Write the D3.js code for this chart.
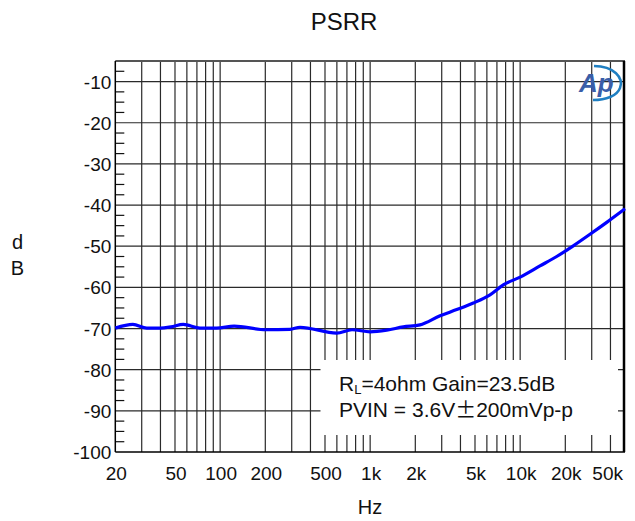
<!DOCTYPE html>
<html>
<head>
<meta charset="utf-8">
<script src="https://cdn.jsdelivr.net/npm/d3@7"></script>
<style>
  html, body { margin: 0; padding: 0; background: #fff; }
  svg { display: block; font-family: "Liberation Sans", Arial, sans-serif; }
</style>
</head>
<body>
<svg id="chart" width="635" height="521"></svg>
<script>
// PSRR sweep: frequency (Hz) and rejection (dB)
const freqHz = [20, 26.2, 32.4, 40, 47, 56.8, 73.4, 94.8, 124, 201, 292, 341, 598, 757, 1000,
  1290, 1664, 2150, 2925, 3776, 4874, 6296, 7720, 10000, 13550, 17520, 22600, 29200, 37760, 50000];
const psrrDb = [-69.9, -69.0, -69.9, -69.9, -69.6, -69.0, -69.9, -69.9, -69.4, -70.3, -70.2, -69.7, -71.1, -70.3, -70.8,
  -70.4, -69.6, -69.1, -66.9, -65.4, -63.8, -61.8, -59.4, -57.5, -54.8, -52.5, -49.9, -47.1, -44.2, -40.9];

// Axis ticks
const xTickValues = [20, 50, 100, 200, 500, 1000, 2000, 5000, 10000, 20000, 50000];
const xTickLabels = ["20", "50", "100", "200", "500", "1k", "2k", "5k", "10k", "20k", "50k"];
const yTickValues = [-10, -20, -30, -40, -50, -60, -70, -80, -90, -100];
const yTickLabels = ["-10", "-20", "-30", "-40", "-50", "-60", "-70", "-80", "-90", "-100"];

const svg = d3.select("#chart");
const L = 115.3, R = 625, T = 61, B = 452;

const x = d3.scaleLog().domain([20, 50000]).range([L, R]);
const y = d3.scaleLinear().domain([-5, -100]).range([T, B]);

// vertical grid: every 1..9 multiple of each decade
const xGrid = [];
[10, 100, 1000, 10000].forEach(d => {
  for (let k = 1; k <= 9; k++) {
    const v = k * d;
    if (v > 20 && v < 50000) xGrid.push(v);
  }
});

const grid = svg.append("g");
grid.selectAll("line.v").data(xGrid).join("line")
  .attr("x1", d => x(d)).attr("x2", d => x(d))
  .attr("y1", T).attr("y2", B)
  .attr("stroke", "#2a2a2a").attr("stroke-width", 1.2);

grid.selectAll("line.h").data(yTickValues.filter(v => v > -100)).join("line")
  .attr("x1", L).attr("x2", R)
  .attr("y1", d => y(d)).attr("y2", d => y(d))
  .attr("stroke", "#2a2a2a").attr("stroke-width", 1.2);

// minor ticks on the left axis every 2.5 dB
const minor = d3.range(-7.5, -100, -2.5).filter(v => v % 10 !== 0);
grid.selectAll("line.m").data(minor).join("line")
  .attr("x1", L).attr("x2", L + 9)
  .attr("y1", d => y(d)).attr("y2", d => y(d))
  .attr("stroke", "#111").attr("stroke-width", 1.2);

// frame
svg.append("line").attr("x1", L).attr("x2", R).attr("y1", T).attr("y2", T)
  .attr("stroke", "#555").attr("stroke-width", 2);
svg.append("line").attr("x1", L).attr("x2", L).attr("y1", T).attr("y2", B)
  .attr("stroke", "#000").attr("stroke-width", 1.5);
svg.append("line").attr("x1", L).attr("x2", R).attr("y1", B).attr("y2", B)
  .attr("stroke", "#000").attr("stroke-width", 1.5);
svg.append("line").attr("x1", R - 1).attr("x2", R - 1).attr("y1", T).attr("y2", B)
  .attr("stroke", "#000").attr("stroke-width", 2.5);

// note box
svg.append("rect").attr("x", 320.5).attr("y", 360).attr("width", 297.5).attr("height", 75)
  .attr("fill", "#fff");
const note = svg.append("text").attr("x", 339).attr("y", 391)
  .attr("font-size", 21).attr("fill", "#111");
note.append("tspan").text("R");
note.append("tspan").attr("font-size", 13).attr("dy", 3).text("L");
note.append("tspan").attr("dy", -3).text("=4ohm Gain=23.5dB");
const note2 = svg.append("text").attr("x", 339).attr("y", 417)
  .attr("font-size", 21).attr("fill", "#111");
note2.append("tspan").text("PVIN = 3.6V");
note2.append("tspan").attr("font-family", "'Noto Sans CJK SC', sans-serif").text("\u00B1");
note2.append("tspan").text("200mVp-p");

// curve
svg.append("path")
  .datum(freqHz.map((f, i) => [f, psrrDb[i]]))
  .attr("fill", "none").attr("stroke", "#0000ff").attr("stroke-width", 3.2)
  .attr("stroke-linejoin", "round")
  .attr("d", d3.line().x(d => x(d[0])).y(d => y(d[1])).curve(d3.curveMonotoneX));

// tick labels
svg.append("g").selectAll("text").data(xTickValues).join("text")
  .attr("x", (d, i) => i === xTickValues.length - 1 ? R - 2 : x(d) + 1)
  .attr("y", 480)
  .attr("text-anchor", (d, i) => i === xTickValues.length - 1 ? "end" : "middle")
  .attr("font-size", 19).attr("fill", "#111")
  .text((d, i) => xTickLabels[i]);

svg.append("g").selectAll("text").data(yTickValues).join("text")
  .attr("x", L - 4).attr("y", d => y(d) + 7)
  .attr("text-anchor", "end")
  .attr("font-size", 19).attr("fill", "#111")
  .text((d, i) => yTickLabels[i]);

// titles
svg.append("text").attr("x", 344).attr("y", 29.5).attr("text-anchor", "middle")
  .attr("font-size", 24).attr("fill", "#111").text("PSRR");
svg.append("text").attr("x", 370).attr("y", 514).attr("text-anchor", "middle")
  .attr("font-size", 20).attr("fill", "#111").text("Hz");
svg.append("text").attr("x", 17.5).attr("y", 249).attr("text-anchor", "middle")
  .attr("font-size", 20).attr("fill", "#111").text("d");
svg.append("text").attr("x", 17.5).attr("y", 275).attr("text-anchor", "middle")
  .attr("font-size", 20).attr("fill", "#111").text("B");

// logo mark
const logo = svg.append("g");
logo.append("path")
  .attr("d", "M594,66 C614,66 624,78 620,88 C617,96 606,100 593,100")
  .attr("fill", "none").attr("stroke", "#1f7fc2").attr("stroke-width", 2.5);
logo.append("text").attr("x", 579).attr("y", 92)
  .attr("font-size", 26).attr("font-style", "italic").attr("font-weight", "bold")
  .attr("fill", "#3a5ea8").text("Ap");
</script>
</body>
</html>
